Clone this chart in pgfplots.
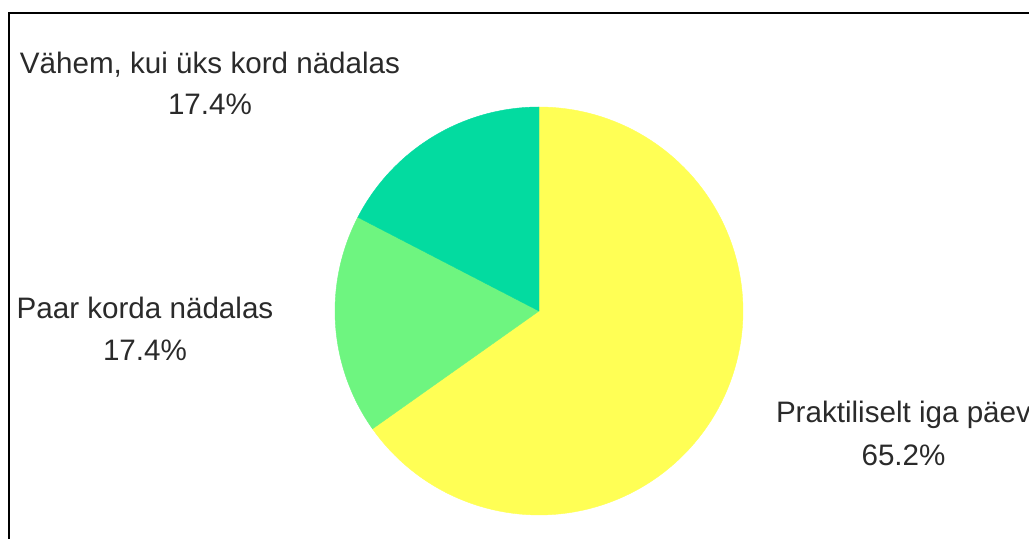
\documentclass[border=0pt]{standalone}
\usepackage{fontspec}
\setmainfont{Liberation Sans}
\usepackage{pgfplots}
\usepackage{pgfplotstable}
\pgfplotsset{compat=1.18}
\definecolor{cYellow}{HTML}{FFFF55}
\definecolor{cGreen}{HTML}{6EF580}
\definecolor{cTeal}{HTML}{03DBA0}
\definecolor{cText}{HTML}{2A2A2A}
\tikzset{lbl/.style={font=\fontsize{14.8}{18}\selectfont, text=cText, anchor=base, inner sep=0pt}}
\pgfplotstableread{
label value
Praktiliselt 65.2
Paar 17.4
Vahem 17.4
}\piedata
\begin{document}
\begin{tikzpicture}
\pgfplotstablegetelem{0}{value}\of\piedata \let\vA\pgfplotsretval
\pgfplotstablegetelem{1}{value}\of\piedata \let\vB\pgfplotsretval
\pgfplotstablegetelem{2}{value}\of\piedata \let\vC\pgfplotsretval
\pgfmathsetmacro\aZero{90}
\pgfmathsetmacro\aOne{90-3.6*\vA}
\pgfmathsetmacro\aTwo{\aOne-3.6*\vB}
\pgfmathsetmacro\aThree{\aTwo-3.6*\vC}
\useasboundingbox (0,0) rectangle (514.5pt,269.5pt);
\clip (0,0) rectangle (514.5pt,269.5pt);
\begin{axis}[
  at={(0,0)}, anchor=south west,
  scale only axis, width=514.5pt, height=269.5pt,
  xmin=0, xmax=1029, ymin=0, ymax=539,
  hide axis, clip=false,
]
% frame
\draw[black, line width=1pt] (axis cs:8.5,-20) -- (axis cs:8.5,525.5) -- (axis cs:1060,525.5);
% slices
\addplot[fill=cYellow, draw=cYellow, line width=0.2pt, domain=\aOne:\aZero, samples=120, variable=\t]
  ({539+204*cos(\t)},{228+204*sin(\t)}) -- (axis cs:539,228) -- cycle;
\addplot[fill=cGreen, draw=cGreen, line width=0.2pt, domain=\aTwo:\aOne, samples=50, variable=\t]
  ({539+204*cos(\t)},{228+204*sin(\t)}) -- (axis cs:539,228) -- cycle;
\addplot[fill=cTeal, draw=cTeal, line width=0.2pt, domain=\aThree:\aTwo, samples=50, variable=\t]
  ({539+204*cos(\t)},{228+204*sin(\t)}) -- (axis cs:539,228) -- cycle;
% labels
\node[lbl] at (axis cs:210,465) {Vähem, kui üks kord nädalas};
\node[lbl] at (axis cs:210,424) {17.4\%};
\node[lbl] at (axis cs:145,220) {Paar korda nädalas};
\node[lbl] at (axis cs:145,178) {17.4\%};
\node[lbl] at (axis cs:903.5,116) {Praktiliselt iga päev};
\node[lbl] at (axis cs:903.5,73) {65.2\%};
\end{axis}
\end{tikzpicture}
\end{document}
